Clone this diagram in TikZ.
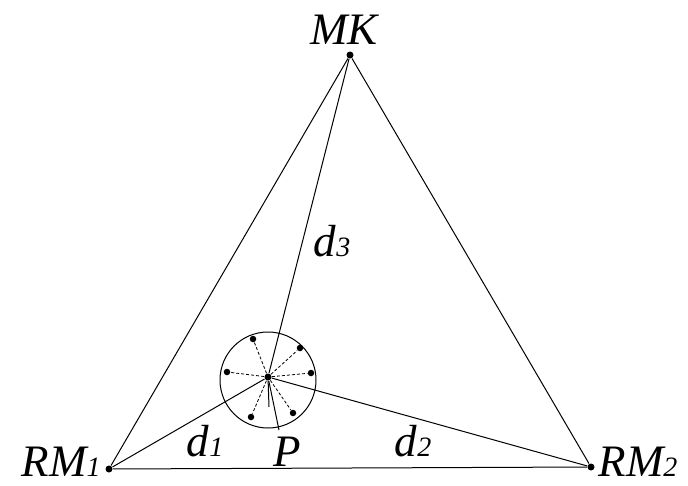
\documentclass[tikz,border=0pt]{standalone}
\usepackage{fontspec}
\setmainfont{Liberation Serif}[ItalicFont={Liberation Serif Italic}]
\tikzset{
  lbl/.style={font=\fontsize{45}{45}\selectfont\itshape, inner sep=0pt},
  dot/.style={circle, fill, inner sep=0pt, minimum size=7pt},
  sdot/.style={circle, fill, inner sep=0pt, minimum size=6.5pt},
}
\newcommand{\sbs}[1]{{\fontsize{28}{28}\selectfont #1}}
\begin{document}
\begin{tikzpicture}[x=1pt,y=-1pt,line width=1pt]
					\useasboundingbox (0,0) rectangle (688,485);
					\node[dot] (MK) at (350,55) {};
					\node[dot] (RMa) at (109,469) {};
					\node[dot] (RMb) at (591,467) {};
					\node[dot] (P) at (268,377) {};
					\draw (MK) -- (RMa) -- (RMb) -- (MK);
					\draw (MK) -- (P);
					\draw (RMa) -- (P);
					\draw (RMb) -- (P);
					\draw (268,380) circle (48);
					% signal points round P
					\foreach \n/\px/\py in {a/253/339, b/300/348, c/227/372, d/311/373, e/251/417, f/293/413} {
						\node[sdot] (s\n) at (\px,\py) {};
						\draw[densely dashed, line width=0.8pt] (P) -- (s\n);
					}
					\coordinate (tk) at (269,407);
					\coordinate (pp) at (279,430);
					\draw (P) -- (tk);
					\draw (P) -- (pp);
					% labels
					\node[lbl, anchor=base] (lMK) at (344,44) {MK};
					\node[lbl, text depth=0pt, anchor=base east] (lRMa) at (101,476) {RM\sbs{1}};
					\node[lbl, text depth=0pt, anchor=base west] (lRMb) at (598,476) {RM\sbs{2}};
					\node[lbl, anchor=base] (lP) at (287,466) {P};
					\node[lbl, anchor=base] (ld1) at (205,456) {d\sbs{1}};
					\node[lbl, anchor=base] (ld2) at (413,456) {d\sbs{2}};
					\node[lbl, anchor=base] (ld3) at (332,256) {d\sbs{3}};
				\end{tikzpicture}
\end{document}
